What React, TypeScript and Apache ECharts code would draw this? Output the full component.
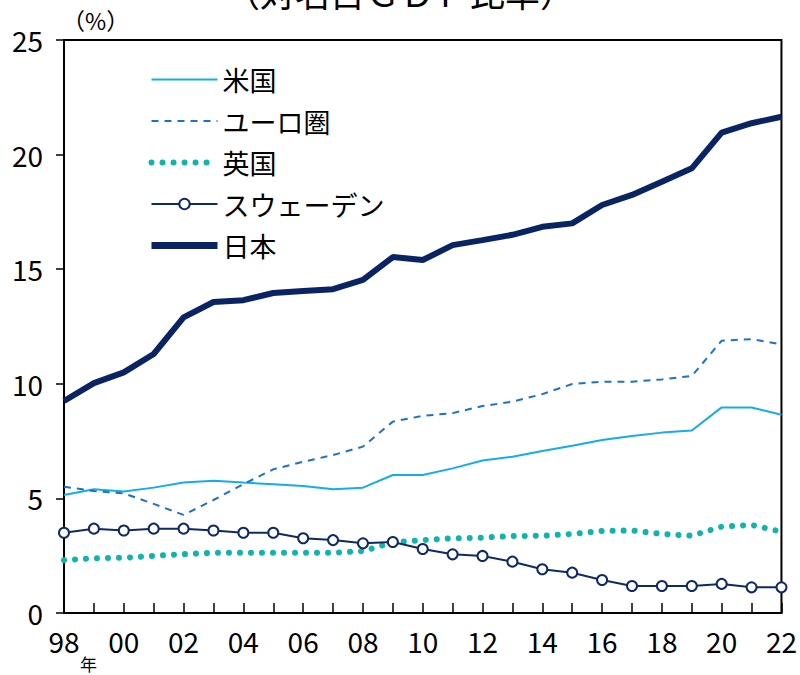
import React, { useEffect, useRef } from "react";
import * as echarts from "echarts";

const years = [
  "1998", "1999", "2000", "2001", "2002", "2003", "2004", "2005", "2006", "2007", "2008", "2009",
  "2010", "2011", "2012", "2013", "2014", "2015", "2016", "2017", "2018", "2019", "2020", "2021", "2022",
];
const usValues = [5.15, 5.4, 5.3, 5.47, 5.69, 5.77, 5.69, 5.62, 5.54, 5.4, 5.47, 6.02, 6.02, 6.31, 6.65, 6.82, 7.07, 7.3, 7.55, 7.72, 7.87, 7.96, 8.97, 8.97, 8.65];
const euroValues = [5.51, 5.32, 5.22, 4.76, 4.28, 4.93, 5.62, 6.27, 6.6, 6.89, 7.26, 8.35, 8.6, 8.72, 9.03, 9.22, 9.55, 9.99, 10.09, 10.09, 10.19, 10.34, 11.88, 11.95, 11.72];
const ukValues = [2.31, 2.39, 2.41, 2.49, 2.57, 2.63, 2.63, 2.63, 2.63, 2.63, 2.7, 3.08, 3.18, 3.26, 3.29, 3.36, 3.37, 3.45, 3.58, 3.6, 3.45, 3.37, 3.77, 3.84, 3.55];
const swedenValues = [3.5, 3.68, 3.6, 3.68, 3.68, 3.6, 3.5, 3.5, 3.26, 3.18, 3.04, 3.1, 2.79, 2.56, 2.49, 2.24, 1.91, 1.76, 1.44, 1.18, 1.18, 1.18, 1.27, 1.12, 1.12];
const japanValues = [9.25, 10.03, 10.5, 11.3, 12.9, 13.57, 13.65, 13.96, 14.05, 14.13, 14.53, 15.53, 15.4, 16.05, 16.27, 16.5, 16.85, 17.0, 17.8, 18.24, 18.82, 19.4, 20.96, 21.37, 21.65];
const seriesNames = ["米国", "ユーロ圏", "英国", "スウェーデン", "日本"];
const titleText = "（対名目ＧＤＰ比率）";
const unitText = "（%）";
const yearMark = "年";

const numFont = "'Noto Sans CJK JP', sans-serif";
const jpFont = "'Noto Sans CJK JP', sans-serif";

const hidden = { opacity: 0 };

export default function App() {
  const ref = useRef<HTMLDivElement>(null);
  useEffect(() => {
    if (!ref.current) return;
    const chart = echarts.init(ref.current, null, { renderer: "svg" });
    chart.setOption({
      animation: false,
      backgroundColor: "#ffffff",
      grid: {
        left: 64,
        right: 18,
        top: 40,
        bottom: 62,
        show: true,
        borderColor: "#000",
        borderWidth: 2,
        backgroundColor: "transparent",
      },
      legend: {
        orient: "vertical",
        left: 143,
        top: 61,
        itemWidth: 66,
        itemHeight: 13,
        itemGap: 14.5,
        data: [
          { name: seriesNames[0], itemStyle: hidden },
          { name: seriesNames[1], itemStyle: hidden },
          { name: seriesNames[2], itemStyle: hidden, lineStyle: { width: 6 } },
          { name: seriesNames[3] },
          { name: seriesNames[4], itemStyle: hidden, lineStyle: { width: 7 } },
        ],
        textStyle: { fontFamily: jpFont, fontSize: 27, color: "#000", lineHeight: 27 },
      },
      graphic: [
        {
          type: "text",
          left: "center",
          top: -26,
          style: { text: titleText, fontFamily: jpFont, fontSize: 35, fill: "#000" },
        },
        {
          type: "text",
          left: 62,
          top: 8,
          style: { text: unitText, fontFamily: jpFont, fontSize: 23, fill: "#000" },
        },
        {
          type: "text",
          left: 80,
          top: 655,
          style: { text: yearMark, fontFamily: jpFont, fontSize: 17, fill: "#000" },
        },
      ],
      xAxis: {
        type: "category",
        data: years,
        boundaryGap: false,
        axisLine: { lineStyle: { color: "#000", width: 2 } },
        axisTick: { inside: true, length: 10, interval: 0, lineStyle: { color: "#000", width: 1.5 } },
        axisLabel: {
          interval: 1,
          formatter: (v: string) => v.slice(2),
          fontFamily: numFont,
          fontSize: 28,
          color: "#000",
          margin: 14,
        },
        splitLine: { show: false },
      },
      yAxis: {
        type: "value",
        min: 0,
        max: 25,
        interval: 5,
        axisLine: { show: true, lineStyle: { color: "#000", width: 2 } },
        axisTick: { show: true, inside: false, length: 8, lineStyle: { color: "#000", width: 1.5 } },
        axisLabel: { fontFamily: numFont, fontSize: 28, color: "#000", margin: 21 },
        splitLine: { show: false },
      },
      series: [
        {
          name: seriesNames[0],
          type: "line",
          data: usValues,
          symbol: "none",
          lineStyle: { color: "#14aceb", width: 2 },
          itemStyle: { color: "#14aceb" },
          z: 3,
        },
        {
          name: seriesNames[1],
          type: "line",
          data: euroValues,
          symbol: "none",
          lineStyle: { color: "#1c72c6", width: 2, type: [7, 6] },
          itemStyle: { color: "#1c72c6" },
          z: 3,
        },
        {
          name: seriesNames[2],
          type: "line",
          data: ukValues,
          symbol: "none",
          lineStyle: { color: "#10b3ad", width: 6, type: [0.01, 11], cap: "round" },
          itemStyle: { color: "#10b3ad" },
          z: 2,
        },
        {
          name: seriesNames[3],
          type: "line",
          data: swedenValues,
          symbol: "circle",
          symbolSize: 10,
          lineStyle: { color: "#0f2867", width: 2 },
          itemStyle: { color: "#ffffff", borderColor: "#0f2867", borderWidth: 2 },
          z: 4,
        },
        {
          name: seriesNames[4],
          type: "line",
          data: japanValues,
          symbol: "none",
          lineStyle: { color: "#0a2463", width: 6 },
          itemStyle: { color: "#0a2463" },
          z: 5,
        },
      ],
    });
    return () => chart.dispose();
  }, []);
  return <div ref={ref} style={{ width: 800, height: 675, position: "absolute", left: 0, top: 0 }} />;
}
